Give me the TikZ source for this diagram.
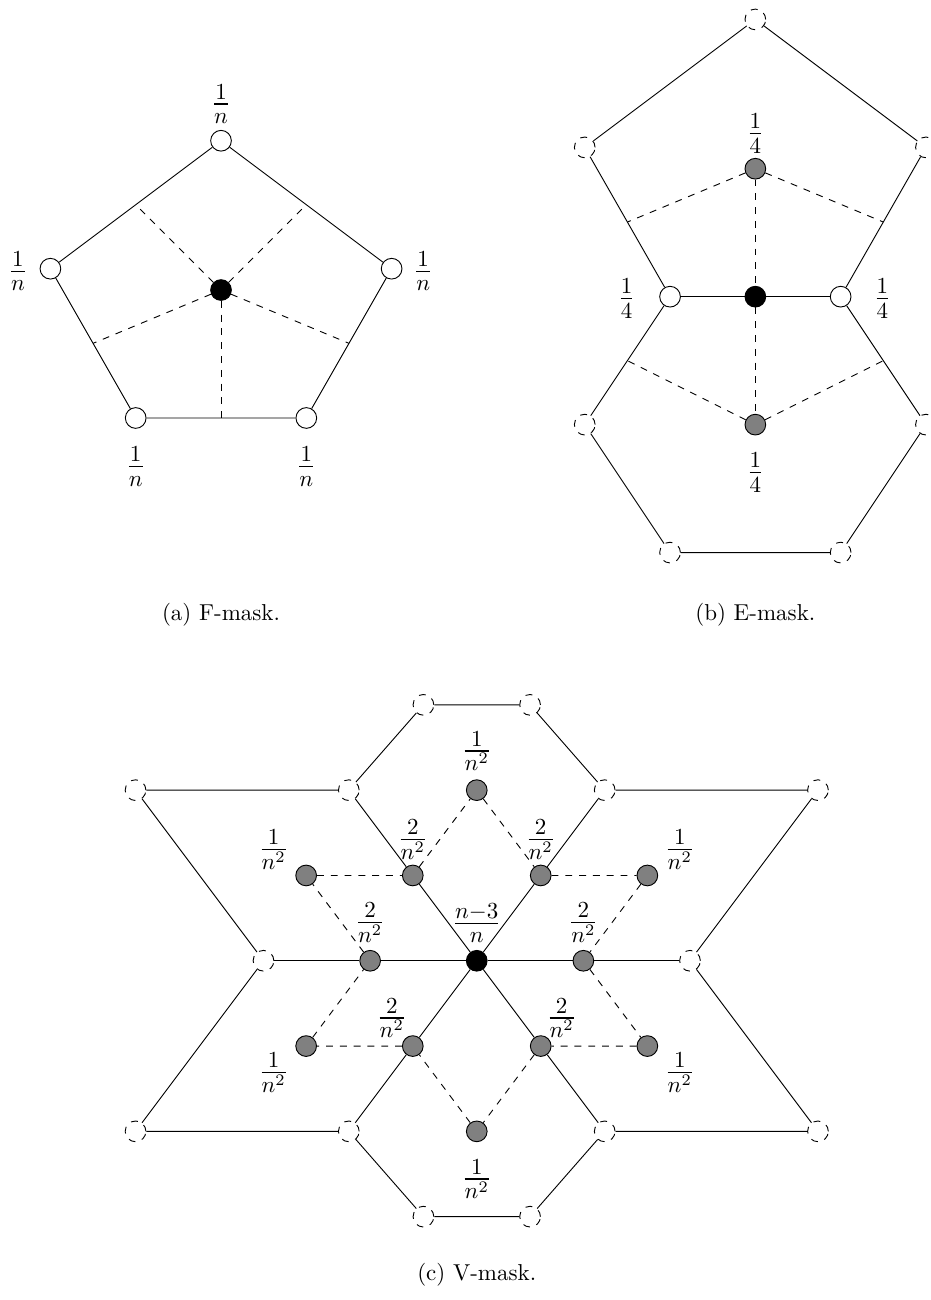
\documentclass[tikz,border=0pt]{standalone}
\usepackage{amsmath}
\usetikzlibrary{calc}
\begin{document}
\begin{tikzpicture}[x=37.09pt,y=37.09pt,
  vtx/.style={circle,draw,inner sep=0pt,minimum size=9pt},
  wvtx/.style={vtx,fill=white},
  bvtx/.style={vtx,fill=black},
  gvtx/.style={vtx,fill=gray},
  ghost/.style={vtx,dashed,fill=white},
  lab/.style={inner sep=0pt,font=\Large},
  captext/.style={inner sep=0pt}]
\useasboundingbox (0,0) rectangle (10.903,-15.240);

% ---------- F-mask ----------
\begin{scope}[shift={(2.591,-3.400)}]
  \node[bvtx] (f-c) at (0,0) {};
  \node[wvtx] (f-1) at (0,1.75) {};
  \node[wvtx] (f-2) at (2,0.25) {};
  \node[wvtx] (f-3) at (1,-1.5) {};
  \node[wvtx] (f-4) at (-1,-1.5) {};
  \node[wvtx] (f-5) at (-2,0.25) {};
  \draw (f-1) -- (f-2) -- (f-3) -- (f-4) -- (f-5) -- (f-1);
  \coordinate (f-m12) at (1,1);
  \coordinate (f-m23) at (1.5,-0.625);
  \coordinate (f-m34) at (0,-1.5);
  \coordinate (f-m45) at (-1.5,-0.625);
  \coordinate (f-m51) at (-1,1);
  \draw[dashed] (f-c) -- (f-m12);
  \draw[dashed] (f-c) -- (f-m23);
  \draw[dashed] (f-c) -- (f-m34);
  \draw[dashed] (f-c) -- (f-m45);
  \draw[dashed] (f-c) -- (f-m51);
  \node[lab] (fl-1) at (0,2.18) {$\frac{1}{n}$};
  \node[lab] (fl-2) at (2.37,0.22) {$\frac{1}{n}$};
  \node[lab] (fl-3) at (1,-2.07) {$\frac{1}{n}$};
  \node[lab] (fl-4) at (-1,-2.07) {$\frac{1}{n}$};
  \node[lab] (fl-5) at (-2.38,0.22) {$\frac{1}{n}$};
\end{scope}

% ---------- E-mask ----------
\begin{scope}[shift={(8.855,-3.478)}]
  \node[bvtx] (e-c) at (0,0) {};
  \node[wvtx] (e-wl) at (-1,0) {};
  \node[wvtx] (e-wr) at (1,0) {};
  \node[gvtx] (e-gt) at (0,1.5) {};
  \node[gvtx] (e-gb) at (0,-1.5) {};
  \node[ghost] (e-u1) at (-2,1.75) {};
  \node[ghost] (e-u2) at (0,3.25) {};
  \node[ghost] (e-u3) at (2,1.75) {};
  \node[ghost] (e-l1) at (-2,-1.5) {};
  \node[ghost] (e-l2) at (-1,-3) {};
  \node[ghost] (e-l3) at (1,-3) {};
  \node[ghost] (e-l4) at (2,-1.5) {};
  \draw (e-wl) -- (e-c) -- (e-wr);
  \draw (e-wl) -- (e-u1) -- (e-u2) -- (e-u3) -- (e-wr);
  \draw (e-wl) -- (e-l1) -- (e-l2) -- (e-l3) -- (e-l4) -- (e-wr);
  \coordinate (e-mu1) at (-1.5,0.875);
  \coordinate (e-mu3) at (1.5,0.875);
  \coordinate (e-ml1) at (-1.5,-0.75);
  \coordinate (e-ml4) at (1.5,-0.75);
  \draw[dashed] (e-gt) -- (e-c) -- (e-gb);
  \draw[dashed] (e-gt) -- (e-mu1);
  \draw[dashed] (e-gt) -- (e-mu3);
  \draw[dashed] (e-gb) -- (e-ml1);
  \draw[dashed] (e-gb) -- (e-ml4);
  \node[lab] (el-gt) at (0,1.91) {$\frac{1}{4}$};
  \node[lab] (el-wl) at (-1.51,-0.02) {$\frac{1}{4}$};
  \node[lab] (el-wr) at (1.49,-0.02) {$\frac{1}{4}$};
  \node[lab] (el-gb) at (0,-2.06) {$\frac{1}{4}$};
\end{scope}

\node[captext] (cap-a) at (2.591,-7.21) {(a) F-mask.};
\node[captext] (cap-b) at (8.855,-7.21) {(b) E-mask.};

% ---------- V-mask ----------
\begin{scope}[shift={(5.589,-11.263)}]
  \node[bvtx] (v-c) at (0,0) {};
  % outer vertices of the one-ring
  \node[ghost] (v-L) at (-2.5,0) {};
  \node[ghost] (v-R) at (2.5,0) {};
  \node[ghost] (v-UL) at (-1.5,2) {};
  \node[ghost] (v-UR) at (1.5,2) {};
  \node[ghost] (v-DL) at (-1.5,-2) {};
  \node[ghost] (v-DR) at (1.5,-2) {};
  \node[ghost] (v-OUL) at (-4,2) {};
  \node[ghost] (v-OUR) at (4,2) {};
  \node[ghost] (v-ODL) at (-4,-2) {};
  \node[ghost] (v-ODR) at (4,-2) {};
  \node[ghost] (v-T1) at (-0.625,3) {};
  \node[ghost] (v-T2) at (0.625,3) {};
  \node[ghost] (v-B1) at (-0.625,-3) {};
  \node[ghost] (v-B2) at (0.625,-3) {};
  % edge points and face points
  \node[gvtx] (v-gL) at (-1.25,0) {};
  \node[gvtx] (v-gR) at (1.25,0) {};
  \node[gvtx] (v-gUL) at (-0.75,1) {};
  \node[gvtx] (v-gUR) at (0.75,1) {};
  \node[gvtx] (v-gDL) at (-0.75,-1) {};
  \node[gvtx] (v-gDR) at (0.75,-1) {};
  \node[gvtx] (v-oUL) at (-2,1) {};
  \node[gvtx] (v-oUR) at (2,1) {};
  \node[gvtx] (v-oDL) at (-2,-1) {};
  \node[gvtx] (v-oDR) at (2,-1) {};
  \node[gvtx] (v-gT) at (0,2) {};
  \node[gvtx] (v-gB) at (0,-2) {};
  % mesh edges
  \draw (v-c) -- (v-gL) -- (v-L);
  \draw (v-c) -- (v-gR) -- (v-R);
  \draw (v-c) -- (v-gUL) -- (v-UL);
  \draw (v-c) -- (v-gUR) -- (v-UR);
  \draw (v-c) -- (v-gDL) -- (v-DL);
  \draw (v-c) -- (v-gDR) -- (v-DR);
  \draw (v-L) -- (v-OUL) -- (v-UL);
  \draw (v-UL) -- (v-T1) -- (v-T2) -- (v-UR);
  \draw (v-UR) -- (v-OUR) -- (v-R);
  \draw (v-R) -- (v-ODR) -- (v-DR);
  \draw (v-DR) -- (v-B2) -- (v-B1) -- (v-DL);
  \draw (v-DL) -- (v-ODL) -- (v-L);
  % stencil outline
  \draw[dashed] (v-gL) -- (v-oUL) -- (v-gUL) -- (v-gT) -- (v-gUR) -- (v-oUR)
    -- (v-gR) -- (v-oDR) -- (v-gDR) -- (v-gB) -- (v-gDL) -- (v-oDL) -- (v-gL);
  % weights
  \node[lab] (vl-c) at (0,0.44) {$\frac{n-3}{n}$};
  \node[lab] (vl-gL) at (-1.25,0.45) {$\frac{2}{n^2}$};
  \node[lab] (vl-gR) at (1.25,0.45) {$\frac{2}{n^2}$};
  \node[lab] (vl-gUL) at (-0.75,1.42) {$\frac{2}{n^2}$};
  \node[lab] (vl-gUR) at (0.75,1.42) {$\frac{2}{n^2}$};
  \node[lab] (vl-gDL) at (-0.996,-0.67) {$\frac{2}{n^2}$};
  \node[lab] (vl-gDR) at (0.996,-0.67) {$\frac{2}{n^2}$};
  \node[lab] (vl-oUL) at (-2.38,1.305) {$\frac{1}{n^2}$};
  \node[lab] (vl-oUR) at (2.38,1.305) {$\frac{1}{n^2}$};
  \node[lab] (vl-oDL) at (-2.38,-1.31) {$\frac{1}{n^2}$};
  \node[lab] (vl-oDR) at (2.38,-1.31) {$\frac{1}{n^2}$};
  \node[lab] (vl-gT) at (0,2.46) {$\frac{1}{n^2}$};
  \node[lab] (vl-gB) at (0,-2.56) {$\frac{1}{n^2}$};
\end{scope}

\node[captext] (cap-c) at (5.589,-14.947) {(c) V-mask.};
\end{tikzpicture}
\end{document}
